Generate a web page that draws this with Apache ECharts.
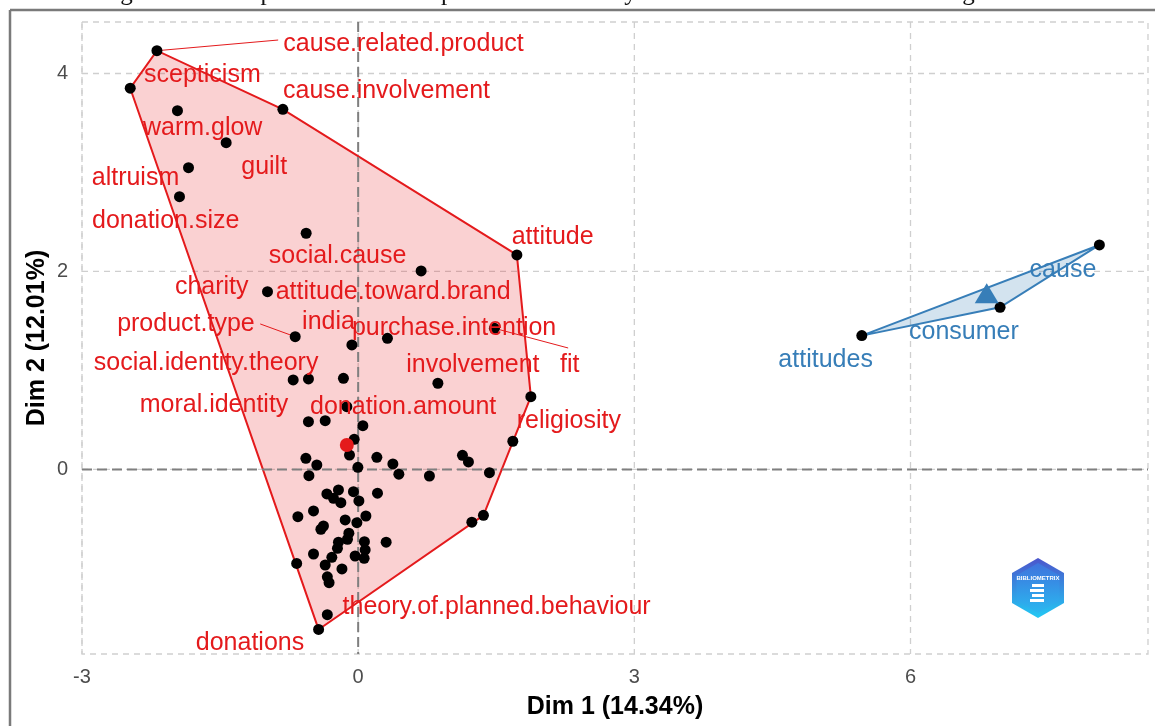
<!DOCTYPE html>
<html><head><meta charset="utf-8">
<script src="https://cdn.jsdelivr.net/npm/echarts@6/dist/echarts.min.js"></script>
<style>html,body{margin:0;padding:0;background:#fff}#c{width:1155px;height:726px}</style>
</head><body><div id="c"></div>
<script>
// ---------- data ----------
const titleText = 'Figure 9: Conceptual structure map with MCA of keywords on cause-related marketing research.';
const xTitle = 'Dim 1 (14.34%)';
const yTitle = 'Dim 2 (12.01%)';
const xTicks = [-3, 0, 3, 6];
const yTicks = [0, 2, 4];
const xRange = [-3, 8.58];
const yRange = [-1.864, 4.52];

// cluster 1 (red) keyword coordinates
const cluster1Points = [
  [-2.186,4.230],[-2.476,3.851],[-1.963,3.624],[-0.818,3.638],[-1.434,3.301],[-1.843,3.048],
  [-1.941,2.756],[-0.565,2.386],[1.724,2.167],[0.684,2.005],[-0.985,1.796],[1.480,1.426],
  [-0.684,1.341],[0.318,1.325],[-0.068,1.258],[-0.706,0.904],[-0.540,0.914],[-0.160,0.921],
  [0.866,0.871],[1.876,0.735],[-0.123,0.634],[-0.540,0.483],[-0.358,0.493],[0.051,0.442],
  [-0.043,0.305],[-0.094,0.146],[-0.568,0.113],[-0.449,0.045],[-0.003,0.022],[0.203,0.123],
  [0.377,0.056],[0.442,-0.048],[0.774,-0.066],[1.133,0.143],[1.198,0.076],[1.426,-0.032],
  [1.680,0.285],[-0.535,-0.063],[-0.340,-0.247],[-0.214,-0.207],[-0.268,-0.291],[-0.188,-0.335],
  [-0.051,-0.224],[0.008,-0.318],[0.210,-0.240],[-0.485,-0.419],[-0.655,-0.477],[-0.141,-0.510],
  [-0.014,-0.537],[0.084,-0.470],[-0.377,-0.571],[-0.405,-0.604],[-0.101,-0.644],[-0.116,-0.705],
  [0.068,-0.729],[0.304,-0.735],[-0.214,-0.735],[-0.225,-0.796],[0.076,-0.813],[-0.485,-0.854],
  [-0.286,-0.887],[-0.033,-0.874],[0.065,-0.897],[-0.668,-0.949],[-0.358,-0.965],[-0.176,-1.005],
  [1.235,-0.533],[1.361,-0.463],[-0.335,-1.084],[-0.316,-1.144],[-0.335,-1.467],[-0.430,-1.616]
];
const cluster1Centroid = [-0.123, 0.247];

// cluster 2 (blue)
const cluster2Points = [[8.052,2.268],[6.973,1.638],[5.471,1.352]];
const cluster2Centroid = [6.828, 1.780];

// labels (text and label anchor in data units)
const cluster1LabelNames = ['cause.related.product','scepticism','cause.involvement','warm.glow','guilt',
  'altruism','donation.size','social.cause','attitude','charity','attitude.toward.brand','india',
  'product.type','purchase.intention','fit','social.identity.theory','involvement','moral.identity',
  'donation.amount','religiosity','theory.of.planned.behaviour','donations'];
const cluster1LabelPos = [[0.493,4.308],[-1.692,3.995],[0.308,3.836],[-1.689,3.460],[-1.021,3.066],
  [-2.419,2.955],[-2.091,2.520],[-0.223,2.167],[2.113,2.356],[-1.591,1.854],[0.380,1.803],[-0.322,1.503],
  [-1.871,1.477],[1.042,1.439],[2.299,1.066],[-1.652,1.086],[1.246,1.063],[-1.566,0.662],
  [0.489,0.644],[2.288,0.497],[1.504,-1.379],[-1.175,-1.740]];
const cluster2LabelNames = ['cause','consumer','attitudes'];
const cluster2LabelPos = [[7.656,2.025],[6.580,1.402],[5.078,1.116]];

// leader segments (point -> label)
const leaderSegments = [
  [[-2.186,4.230],[-0.869,4.338]],
  [[-0.684,1.341],[-1.064,1.470]],
  [[1.480,1.426],[2.281,1.227]]
];

// ---------- helpers ----------
const RED = '#e41a1c', BLUE = '#377eb8';
function convexHull(pts){
  const p = pts.slice().sort((a,b)=>a[0]-b[0]||a[1]-b[1]);
  const cross=(o,a,b)=>(a[0]-o[0])*(b[1]-o[1])-(a[1]-o[1])*(b[0]-o[0]);
  const lower=[];for(const q of p){while(lower.length>=2&&cross(lower[lower.length-2],lower[lower.length-1],q)<=0)lower.pop();lower.push(q);}
  const upper=[];for(let i=p.length-1;i>=0;i--){const q=p[i];while(upper.length>=2&&cross(upper[upper.length-2],upper[upper.length-1],q)<=0)upper.pop();upper.push(q);}
  upper.pop();lower.pop();return lower.concat(upper);
}
function hullSeries(pts, stroke, fill){
  const h = convexHull(pts);
  return {type:'custom', coordinateSystem:'cartesian2d', z:2, silent:true,
    data: h, encode:{x:0,y:1},
    renderItem:(params, api)=>{
      if (params.dataIndex !== 0) return null;
      const poly = h.map(v=>api.coord(v));
      return {type:'polygon', shape:{points:poly}, style:{fill:fill, stroke:stroke, lineWidth:2}};
    }};
}
function labelSeries(names, pos, color){
  return {type:'custom', coordinateSystem:'cartesian2d', z:8, silent:true,
    data: pos.map((p,i)=>[p[0],p[1],names[i]]), encode:{x:0,y:1},
    renderItem:(params, api)=>{
      const c = api.coord([api.value(0), api.value(1)]);
      return {type:'text', x:c[0], y:c[1]+1, style:{text:names[params.dataIndex], fill:color,
        font:'25px "Liberation Sans", Arial, sans-serif', textAlign:'center', textVerticalAlign:'middle'}};
    }};
}

const chart = echarts.init(document.getElementById('c'), null, {renderer:'canvas'});
const option = {
  animation:false,
  backgroundColor:'#ffffff',
  grid:{left:82, top:22, width:1066, height:632, containLabel:false},
  xAxis:{type:'value', min:xRange[0], max:xRange[1], show:false},
  yAxis:{type:'value', min:yRange[0], max:yRange[1], show:false},
  graphic:[
    {type:'text', x:585, y:-6.5, style:{text:titleText, fill:'#111', font:'25px "Liberation Serif", "Times New Roman", serif', textAlign:'center', textVerticalAlign:'middle'}},
    {type:'line', shape:{x1:10,y1:10,x2:1155,y2:10}, style:{stroke:'#7a7a7a', lineWidth:2.5}},
    {type:'line', shape:{x1:10,y1:10,x2:10,y2:726}, style:{stroke:'#7a7a7a', lineWidth:2.5}},
    {type:'text', x:615, y:707, style:{text:xTitle, fill:'#000', font:'bold 25px "Liberation Sans", Arial, sans-serif', textAlign:'center', textVerticalAlign:'middle'}},
    {type:'text', x:37, y:338, rotation:Math.PI/2, style:{text:yTitle, fill:'#000', font:'bold 25px "Liberation Sans", Arial, sans-serif', textAlign:'center', textVerticalAlign:'middle'}},
    {type:'rect', shape:{x:82,y:22,width:1066,height:632}, style:{fill:'none', stroke:'#cfcfcf', lineWidth:1.3, lineDash:[6,5]}, z:-1},
    // logo
    {type:'group', x:1038, y:588, children:[
      {type:'polygon', shape:{points:[[0,-30],[26,-15],[26,15],[0,30],[-26,15],[-26,-15]]},
        style:{fill:{type:'linear',x:0,y:0,x2:0,y2:1,colorStops:[{offset:0,color:'#4b55cc'},{offset:1,color:'#22c9f4'}]}}},
      {type:'polygon', shape:{points:[[0,-25],[21.5,-12.5],[21.5,12.5],[0,25],[-21.5,12.5],[-21.5,-12.5]]},
        style:{fill:{type:'linear',x:0,y:0,x2:0,y2:1,colorStops:[{offset:0,color:'#3f73dd'},{offset:1,color:'#2ab8f0'}]}}},
      {type:'text', x:0, y:-10, style:{text:'BIBLIOMETRIX', fill:'#ffffff', font:'bold 6px "Liberation Sans", Arial', textAlign:'center', textVerticalAlign:'middle'}},
      {type:'rect', shape:{x:-6,y:-4,width:12,height:3}, style:{fill:'#ffffff'}},
      {type:'rect', shape:{x:-8,y:1,width:14,height:3}, style:{fill:'#ffffff'}},
      {type:'rect', shape:{x:-6,y:6,width:12,height:3}, style:{fill:'#ffffff'}},
      {type:'rect', shape:{x:-8,y:11,width:14,height:3}, style:{fill:'#ffffff'}}
    ]}
  ],
  series:[
    {type:'custom', coordinateSystem:'cartesian2d', z:1, silent:true,
      data:xTicks.map(v=>[v,0]), encode:{x:0,y:1},
      renderItem:(params, api)=>{
        const v=api.value(0); const t=api.coord([v,yRange[1]]), b=api.coord([v,yRange[0]]);
        return {type:'group', children:[
          {type:'line', shape:{x1:t[0],y1:t[1],x2:b[0],y2:b[1]}, style:{stroke:'#cfcfcf', lineWidth:1.3, lineDash:[6,5]}},
          {type:'text', x:b[0], y:b[1]+23, style:{text:String(v), fill:'#4d4d4d', font:'20px "Liberation Sans", Arial, sans-serif', textAlign:'center', textVerticalAlign:'middle'}}
        ]};
      }},
    {type:'custom', coordinateSystem:'cartesian2d', z:1, silent:true,
      data:yTicks.map(v=>[0,v]), encode:{x:0,y:1},
      renderItem:(params, api)=>{
        const v=api.value(1); const l=api.coord([xRange[0],v]), r=api.coord([xRange[1],v]);
        return {type:'group', children:[
          {type:'line', shape:{x1:l[0],y1:l[1],x2:r[0],y2:r[1]}, style:{stroke:'#cfcfcf', lineWidth:1.3, lineDash:[6,5]}},
          {type:'text', x:l[0]-14, y:l[1], style:{text:String(v), fill:'#4d4d4d', font:'20px "Liberation Sans", Arial, sans-serif', textAlign:'right', textVerticalAlign:'middle'}}
        ]};
      }},
    hullSeries(cluster1Points, RED, 'rgba(228,26,28,0.2)'),
    hullSeries(cluster2Points, BLUE, 'rgba(55,126,184,0.22)'),
    {type:'custom', coordinateSystem:'cartesian2d', z:3, silent:true,
      data:[[0,0]], encode:{x:0,y:1},
      renderItem:(params, api)=>{
        const a=api.coord([0,yRange[1]]), b=api.coord([0,yRange[0]]);
        const c=api.coord([xRange[0],0]), d=api.coord([xRange[1],0]);
        const st={stroke:'#7f7f7f', lineWidth:2, lineDash:[10,5]};
        return {type:'group', children:[
          {type:'line', shape:{x1:a[0],y1:a[1],x2:b[0],y2:b[1]}, style:st},
          {type:'line', shape:{x1:c[0],y1:c[1],x2:d[0],y2:d[1]}, style:st}
        ]};
      }},
    {type:'custom', coordinateSystem:'cartesian2d', z:4, silent:true,
      data:leaderSegments.map(s=>[s[0][0],s[0][1],s[1][0],s[1][1]]), encode:{x:[0,2],y:[1,3]},
      renderItem:(params, api)=>{
        const a=api.coord([api.value(0),api.value(1)]), b=api.coord([api.value(2),api.value(3)]);
        return {type:'line', shape:{x1:a[0],y1:a[1],x2:b[0],y2:b[1]}, style:{stroke:RED, lineWidth:1}};
      }},
    {type:'scatter', z:5, silent:true, symbol:'circle', symbolSize:11, itemStyle:{color:'#000', opacity:1}, data:cluster1Points},
    {type:'scatter', z:5, silent:true, symbol:'circle', symbolSize:11, itemStyle:{color:'#000', opacity:1}, data:cluster2Points},
    {type:'scatter', z:6, silent:true, symbol:'circle', symbolSize:14, itemStyle:{color:RED, opacity:1}, data:[cluster1Centroid]},
    {type:'scatter', z:6, silent:true, symbol:'triangle', symbolSize:[24,20], itemStyle:{color:BLUE, opacity:1}, data:[cluster2Centroid]},
    labelSeries(cluster1LabelNames, cluster1LabelPos, RED),
    labelSeries(cluster2LabelNames, cluster2LabelPos, BLUE)
  ]
};
chart.setOption(option);
</script></body></html>
